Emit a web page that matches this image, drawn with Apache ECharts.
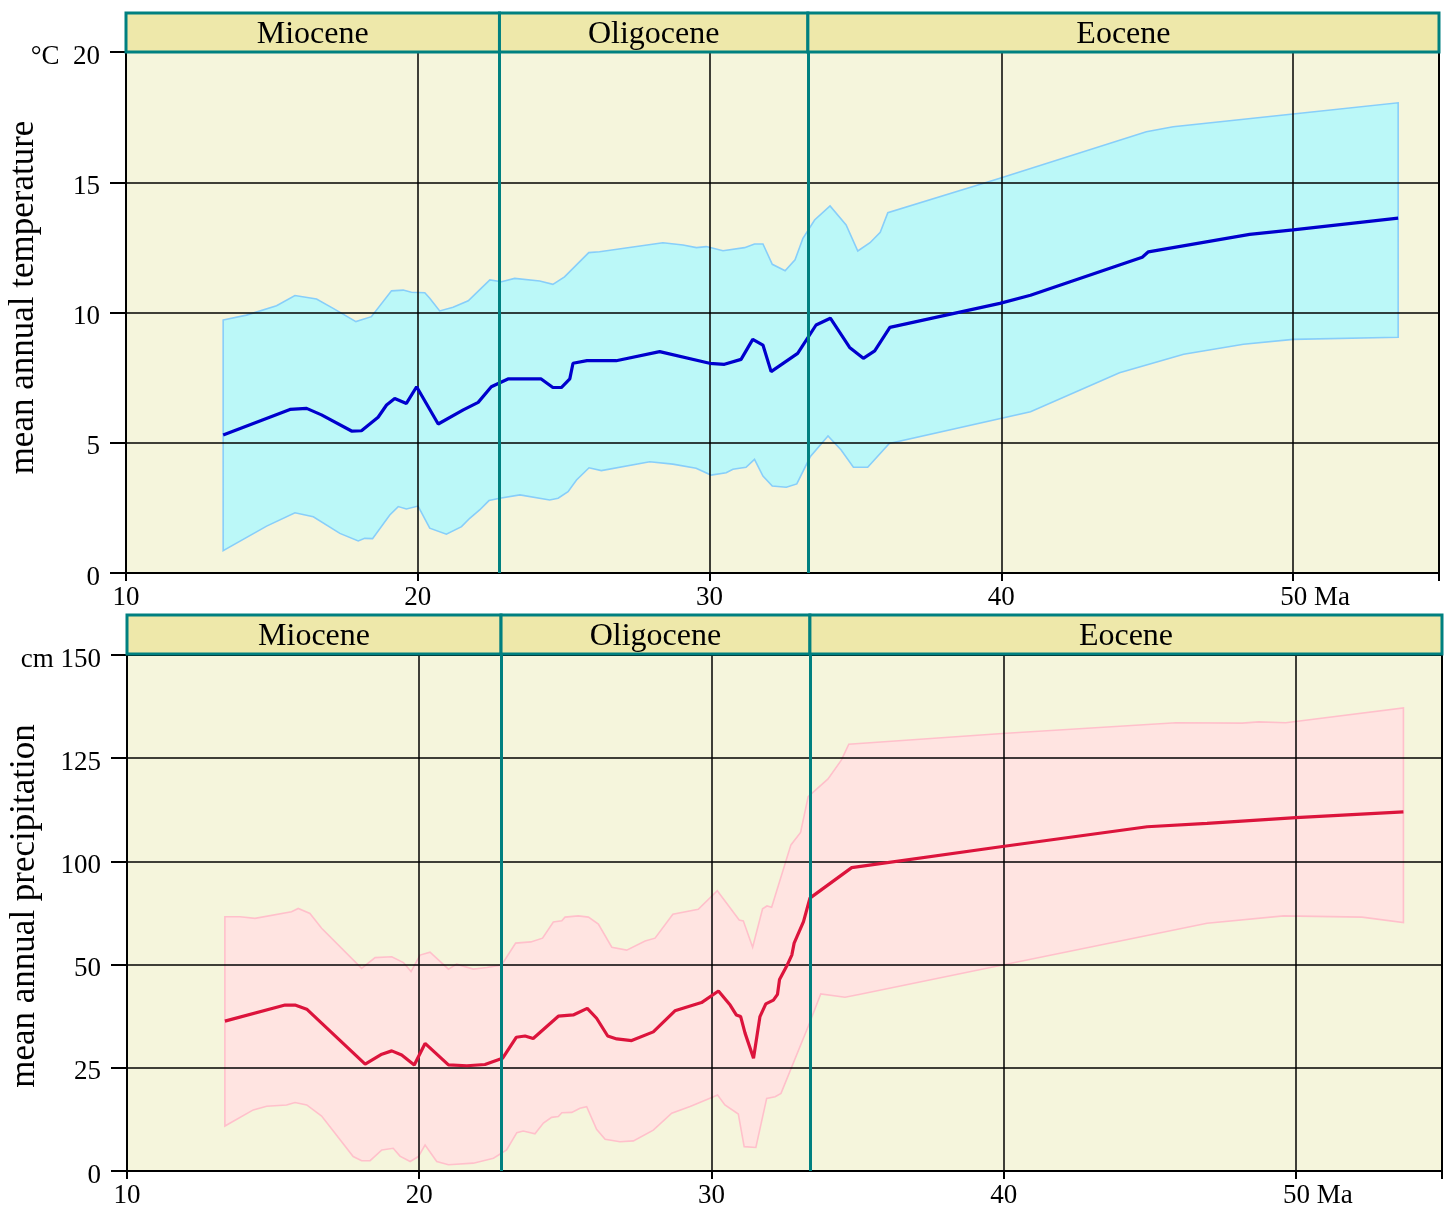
<!DOCTYPE html>
<html>
<head>
<meta charset="utf-8">
<script src="https://cdn.jsdelivr.net/npm/echarts@6/dist/echarts.min.js"></script>
<style>
  html, body { margin: 0; background: #fff; }
  #chart { width: 1448px; height: 1210px; }
</style>
</head>
<body>
<div id="chart"></div>
<script>
// x axis: million years ago
const xMin = 10;
const xMax = 55;
const xTickValues = [10, 20, 30, 40, 50];
const xUnit = "Ma";

const epochNames = ["Miocene", "Oligocene", "Eocene"];
const epochBounds = [10, 22.8, 33.37, 55];

// temperature panel (°C)
const tempTickLabels = ["0", "5", "10", "15", "20"];
const tempUnit = "°C";
const tempMean = [
  [13.33, 5.30], [15.62, 6.28], [16.19, 6.32], [16.70, 6.07], [17.73, 5.45],
  [18.07, 5.46], [18.64, 5.98], [18.93, 6.45], [19.21, 6.70], [19.61, 6.51],
  [19.96, 7.15], [20.70, 5.72], [21.56, 6.26], [22.07, 6.55], [22.52, 7.15],
  [23.09, 7.45], [24.23, 7.45], [24.63, 7.12], [24.92, 7.12], [25.21, 7.45],
  [25.32, 8.05], [25.80, 8.15], [26.80, 8.15], [28.29, 8.50], [30.00, 8.05],
  [30.51, 8.01], [31.08, 8.20], [31.48, 8.97], [31.83, 8.75], [32.11, 7.73],
  [33.02, 8.43], [33.65, 9.52], [34.14, 9.78], [34.80, 8.66], [35.27, 8.24],
  [35.66, 8.53], [36.18, 9.43], [39.95, 10.35], [41.00, 10.66], [44.83, 12.12],
  [45.04, 12.33], [48.51, 13.00], [50.00, 13.17], [53.60, 13.62]
];
const tempUpper = [
  [13.33, 9.71], [14.13, 9.90], [15.16, 10.26], [15.79, 10.65], [16.53, 10.52],
  [17.10, 10.16], [17.88, 9.65], [18.41, 9.84], [19.10, 10.83], [19.50, 10.86],
  [19.78, 10.78], [20.24, 10.76], [20.41, 10.55], [20.75, 10.06], [21.21, 10.20],
  [21.73, 10.45], [22.47, 11.25], [22.87, 11.18], [23.32, 11.31], [24.18, 11.21],
  [24.63, 11.08], [25.03, 11.37], [25.86, 12.30], [26.23, 12.33], [28.40, 12.68],
  [29.09, 12.59], [29.55, 12.49], [29.89, 12.53], [30.46, 12.37], [31.20, 12.49],
  [31.54, 12.63], [31.83, 12.63], [32.15, 11.85], [32.59, 11.60], [32.93, 12.02],
  [33.20, 12.85], [33.60, 13.55], [34.13, 14.09], [34.68, 13.36], [35.08, 12.36],
  [35.50, 12.68], [35.85, 13.08], [36.11, 13.83], [39.95, 15.15], [44.97, 16.94],
  [45.89, 17.13], [50.00, 17.62], [53.60, 18.05]
];
const tempLower = [
  [13.33, 0.86], [14.82, 1.80], [15.79, 2.31], [16.42, 2.16], [17.33, 1.52],
  [17.96, 1.23], [18.18, 1.33], [18.45, 1.32], [19.04, 2.23], [19.33, 2.55],
  [19.61, 2.46], [20.01, 2.57], [20.41, 1.72], [20.98, 1.49], [21.50, 1.78],
  [21.78, 2.10], [22.12, 2.42], [22.44, 2.78], [22.81, 2.87], [23.50, 3.00],
  [24.52, 2.80], [24.81, 2.87], [25.15, 3.12], [25.44, 3.57], [25.87, 4.04],
  [26.29, 3.93], [27.95, 4.27], [28.74, 4.18], [29.54, 4.02], [30.05, 3.76],
  [30.57, 3.85], [30.80, 3.98], [31.25, 4.06], [31.54, 4.36], [31.83, 3.72],
  [32.15, 3.34], [32.63, 3.29], [32.99, 3.42], [33.45, 4.46], [34.06, 5.26],
  [34.51, 4.72], [34.93, 4.06], [35.42, 4.06], [36.16, 4.97], [41.00, 6.19],
  [44.05, 7.69], [46.25, 8.40], [48.30, 8.78], [50.00, 8.97], [53.60, 9.05]
];

// precipitation panel (cm) - tick labels as printed, evenly spaced
const precipTickLabels = ["0", "25", "50", "100", "125", "150"];
const precipUnit = "cm";
const precipMean = [
  [13.35, 36.3], [15.41, 40.2], [15.75, 40.2], [16.15, 39.2], [18.15, 25.9],
  [18.72, 28.3], [19.06, 29.1], [19.40, 28.1], [19.83, 25.7], [20.20, 30.9],
  [21.00, 25.7], [21.63, 25.5], [22.25, 25.8], [22.85, 27.3], [23.32, 32.4],
  [23.62, 32.7], [23.90, 32.1], [24.76, 37.5], [25.27, 37.8], [25.75, 39.4],
  [26.07, 37.0], [26.45, 32.7], [26.76, 32.0], [27.27, 31.6], [28.01, 33.7],
  [28.75, 38.8], [29.66, 40.8], [30.24, 43.6], [30.64, 40.2], [30.85, 37.8],
  [31.00, 37.4], [31.15, 33.4], [31.44, 27.3], [31.66, 37.4], [31.86, 40.5],
  [32.12, 41.4], [32.26, 42.8], [32.33, 46.4], [32.58, 49.7], [32.75, 54.6],
  [32.83, 60.4], [33.15, 70.8], [33.37, 82.2], [34.80, 97.0], [39.96, 103.6],
  [44.91, 108.4], [46.96, 109.2], [50.00, 110.6], [53.68, 112.0]
];
const precipUpper = [
  [13.35, 73.2], [13.87, 73.2], [14.38, 72.4], [15.63, 75.6], [15.86, 77.2],
  [16.26, 74.8], [16.66, 67.6], [18.03, 49.1], [18.49, 53.4], [19.06, 53.8],
  [19.46, 51.0], [19.72, 48.3], [20.03, 54.6], [20.37, 56.0], [21.00, 48.9],
  [21.28, 50.2], [21.85, 48.9], [22.31, 49.3], [22.82, 49.9], [23.30, 60.4],
  [23.82, 61.0], [24.22, 62.8], [24.59, 70.6], [24.88, 71.2], [24.99, 73.0],
  [25.44, 73.6], [25.79, 73.0], [26.13, 69.6], [26.59, 58.4], [27.10, 57.0],
  [27.73, 61.4], [28.07, 62.8], [28.68, 74.4], [29.55, 76.8], [30.20, 85.8],
  [30.95, 71.6], [31.09, 71.2], [31.41, 58.4], [31.75, 77.0], [31.90, 78.4],
  [32.06, 77.8], [32.72, 104.0], [33.05, 107.0], [33.31, 115.7], [33.99, 120.0],
  [34.45, 124.6], [34.70, 128.4], [39.96, 131.0], [45.90, 133.6], [48.16, 133.5],
  [48.73, 133.8], [49.65, 133.6], [53.68, 137.2]
];
const precipLower = [
  [13.35, 10.9], [14.32, 14.8], [14.78, 15.7], [15.46, 16.0], [15.75, 16.6],
  [16.15, 16.0], [16.66, 13.3], [17.74, 3.5], [18.03, 2.5], [18.32, 2.5],
  [18.72, 5.1], [19.11, 5.5], [19.34, 3.6], [19.69, 2.3], [19.97, 3.5],
  [20.20, 6.3], [20.60, 2.3], [21.00, 1.5], [21.85, 1.9], [22.54, 3.1],
  [22.99, 5.1], [23.34, 9.3], [23.56, 9.7], [23.96, 9.0], [24.25, 11.6],
  [24.53, 13.0], [24.76, 13.2], [24.88, 14.1], [25.22, 14.2], [25.50, 15.2],
  [25.73, 15.6], [26.07, 10.1], [26.36, 7.7], [26.87, 7.1], [27.33, 7.3],
  [28.01, 9.9], [28.64, 14.0], [29.27, 15.6], [29.95, 17.6], [30.21, 18.4],
  [30.46, 16.0], [30.92, 13.8], [31.12, 5.9], [31.52, 5.7], [31.89, 17.6],
  [32.18, 18.0], [32.38, 18.8], [33.31, 35.0], [33.74, 42.9], [34.57, 42.1],
  [35.09, 42.8], [39.96, 49.9], [46.96, 70.0], [49.58, 73.6], [52.26, 73.0],
  [53.68, 70.4]
];

const FONT = "Liberation Serif";
const TEAL = "#008080";

// the printed precipitation ticks are evenly spaced, so map values onto tick slots
const precipStep = 25;
function precipToAxis(v) {
  const t = precipTickLabels.map(Number);
  for (let i = 1; i < t.length; i++) {
    if (v <= t[i] || i === t.length - 1) {
      return (i - 1 + (v - t[i - 1]) / (t[i] - t[i - 1])) * precipStep;
    }
  }
}
const toAxis = (arr) => arr.map(([x, v]) => [x, precipToAxis(v)]);

function makeX(gridIndex, main) {
  return {
    type: "value", gridIndex, min: xMin, max: xMax, interval: 10,
    show: main, z: 3,
    axisLine: { lineStyle: { color: "#000", width: 2 } },
    axisTick: { length: 8, lineStyle: { color: "#000", width: 2 }, customValues: xTickValues.concat([xMax]) },
    axisLabel: {
      customValues: xTickValues,
      color: "#000", fontFamily: FONT, fontSize: 27, margin: 11,
      formatter: (v) => v === 50 ? "{ma|" + v + " " + xUnit + "}" : String(v),
      rich: { ma: { fontFamily: FONT, fontSize: 27, color: "#000", padding: [0, 0, 0, 44] } }
    },
    splitLine: { show: main, lineStyle: { color: "#000", width: 1.5 } }
  };
}

function makeY(gridIndex, max, labelFn, name, nameShift) {
  return {
    type: "value", gridIndex, min: 0, max, interval: max / 5 === 4 ? 5 : precipStep,
    z: 3,
    name, nameLocation: "middle", nameGap: 85, nameRotate: 90, nameMoveOverlap: false,
    nameTextStyle: { fontFamily: FONT, fontSize: 35, color: "#000", padding: [0, 0, 0, nameShift] },
    axisLine: { show: true, lineStyle: { color: "#000", width: 2 } },
    axisTick: { show: true, length: 16, lineStyle: { color: "#000", width: 2 } },
    axisLabel: {
      color: "#000", fontFamily: FONT, fontSize: 27, margin: 26,
      verticalAlign: "top", lineHeight: 9, formatter: labelFn
    },
    splitLine: { show: true, lineStyle: { color: "#000", width: 1.5 } }
  };
}

function headerAxisY(gridIndex) {
  return { type: "value", gridIndex, min: 0, max: 1, show: false };
}

const epochData = epochNames.map((n, i) => [epochBounds[i], epochBounds[i + 1], i]);

function headerSeries(xi, yi) {
  return {
    type: "custom", xAxisIndex: xi, yAxisIndex: yi, silent: true, z: 5,
    data: epochData,
    renderItem: (params, api) => {
      const p0 = api.coord([api.value(0), 1]);
      const p1 = api.coord([api.value(1), 0]);
      return {
        type: "group",
        children: [
          {
            type: "rect",
            shape: { x: p0[0], y: p0[1], width: p1[0] - p0[0], height: p1[1] - p0[1] },
            style: { fill: "#EEE8AA", stroke: TEAL, lineWidth: 3 }
          },
          {
            type: "text",
            style: {
              x: (p0[0] + p1[0]) / 2, y: (p0[1] + p1[1]) / 2 + 2,
              text: epochNames[api.value(2)], align: "center", verticalAlign: "middle",
              fontFamily: FONT, fontSize: 32, fill: "#000"
            }
          }
        ]
      };
    }
  };
}

function bandSeries(xi, yi, upper, lower, fill, stroke) {
  return {
    type: "custom", xAxisIndex: xi, yAxisIndex: yi, silent: true, z: 1,
    data: [0],
    renderItem: (params, api) => {
      const pts = upper.concat(lower.slice().reverse()).map((p) => api.coord(p));
      return {
        type: "polygon",
        shape: { points: pts },
        style: { fill, stroke, lineWidth: 1.6 }
      };
    }
  };
}

function meanSeries(xi, yi, data, color) {
  return {
    type: "line", xAxisIndex: xi, yAxisIndex: yi, data, z: 4,
    symbol: "none", silent: true,
    lineStyle: { color, width: 3.2 },
    markLine: {
      silent: true, symbol: "none", animation: false,
      label: { show: false },
      lineStyle: { color: TEAL, width: 3, type: "solid" },
      data: epochBounds.slice(1, -1).map((b) => ({ xAxis: b }))
    }
  };
}

function plotGrid(left, top, width, height) {
  return {
    left, top, width, height, containLabel: false, outerBoundsMode: "none",
    show: true, backgroundColor: "#F5F5DC", borderColor: "#000", borderWidth: 2
  };
}
function headGrid(left, top, width, height) {
  return { left, top, width, height, containLabel: false, outerBoundsMode: "none" };
}

const option = {
  animation: false,
  backgroundColor: "#fff",
  grid: [
    plotGrid(126, 52, 1313, 521),
    headGrid(126, 13, 1313, 39),
    plotGrid(127, 655, 1315, 516),
    headGrid(127, 615, 1315, 39)
  ],
  xAxis: [makeX(0, true), makeX(1, false), makeX(2, true), makeX(3, false)],
  yAxis: [
    makeY(0, 20, (v) => {
      const s = tempTickLabels[Math.round(v / 5)];
      return v === 20 ? tempUnit + "  " + s : s;
    }, "mean annual temperature", 30),
    headerAxisY(1),
    makeY(2, precipStep * (precipTickLabels.length - 1), (v) => {
      const i = Math.round(v / precipStep);
      return i === precipTickLabels.length - 1 ? precipUnit + " " + precipTickLabels[i] : precipTickLabels[i];
    }, "mean annual precipitation", 14),
    headerAxisY(3)
  ],
  series: [
    bandSeries(0, 0, tempUpper, tempLower, "#BBF8F8", "#87CEFA"),
    meanSeries(0, 0, tempMean, "#0000CD"),
    headerSeries(1, 1),
    bandSeries(2, 2, toAxis(precipUpper), toAxis(precipLower), "#FFE4E1", "#FFC0CB"),
    meanSeries(2, 2, toAxis(precipMean), "#DC143C"),
    headerSeries(3, 3)
  ]
};

const chart = echarts.init(document.getElementById("chart"), null, { renderer: "canvas" });
chart.setOption(option);
</script>
</body>
</html>
